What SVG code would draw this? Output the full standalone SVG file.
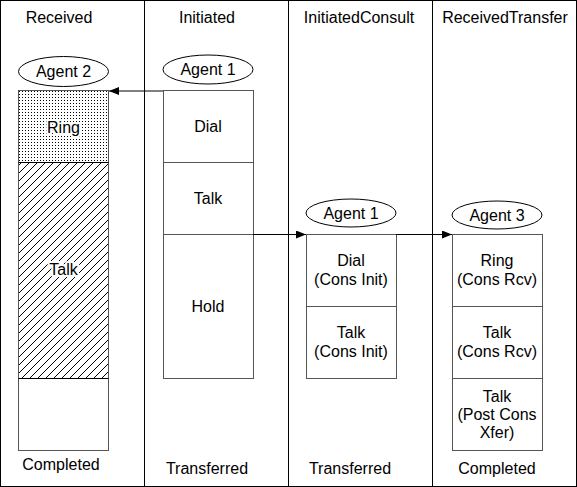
<svg xmlns="http://www.w3.org/2000/svg" width="577" height="487" viewBox="0 0 577 487">
<defs>
<pattern id="dots" width="3" height="3" patternUnits="userSpaceOnUse">
<rect x="1" y="1" width="1" height="1" fill="#000"/>
</pattern>
<pattern id="hatch" width="8" height="8" patternUnits="userSpaceOnUse">
<path d="M-2,2 L2,-2 M0,8 L8,0 M6,10 L10,6" stroke="#000" stroke-width="1"/>
</pattern>
<marker id="arr" markerWidth="10" markerHeight="8" refX="10" refY="4" orient="auto" markerUnits="userSpaceOnUse">
<path d="M0,0 L10,4 L0,8 z" fill="#000"/>
</marker>
<style>
text{font-family:"Liberation Sans",Arial,sans-serif;font-size:16px;fill:#000;text-anchor:middle}
.box{fill:#fff;stroke:#555;stroke-width:1}
.ell{fill:#fff;stroke:#000;stroke-width:1}
.lane{fill:none;stroke:#000;stroke-width:1}
.wt{paint-order:stroke;stroke:#fff;stroke-width:4px;stroke-linejoin:round}
.con{stroke:#000;stroke-width:1;fill:none}
</style>
</defs>
<rect width="577" height="487" fill="#fff"/>
<g id="lanes">
<rect class="lane" x="0.5" y="0.5" width="576" height="486"/>
<line class="lane" x1="144.5" y1="0" x2="144.5" y2="487"/>
<line class="lane" x1="288.5" y1="0" x2="288.5" y2="487"/>
<line class="lane" x1="432.5" y1="0" x2="432.5" y2="487"/>
<text x="59" y="22.5">Received</text>
<text x="207" y="22.5">Initiated</text>
<text x="359" y="22.5">InitiatedConsult</text>
<text x="505" y="22.5">ReceivedTransfer</text>
<text x="61" y="470">Completed</text>
<text x="207" y="474">Transferred</text>
<text x="350" y="474">Transferred</text>
<text x="497" y="474">Completed</text>
</g>
<g id="received">
<ellipse class="ell" cx="63.5" cy="71.5" rx="45" ry="15"/>
<text x="63.5" y="77">Agent 2</text>
<rect class="box" x="18.5" y="90.5" width="90" height="360"/>
<rect x="19" y="91" width="89" height="71" fill="url(#dots)"/>
<rect x="19" y="163" width="89" height="215" fill="url(#hatch)"/>
<line x1="18.5" y1="162.5" x2="108.5" y2="162.5" stroke="#000"/>
<line x1="18.5" y1="378.5" x2="108.5" y2="378.5" stroke="#000"/>
<text class="wt" x="63.5" y="133">Ring</text>
<text class="wt" x="63.5" y="275">Talk</text>
</g>
<g id="initiated">
<ellipse class="ell" cx="208" cy="69.5" rx="45" ry="14.5"/>
<text x="208" y="75">Agent 1</text>
<rect class="box" x="163.5" y="90.5" width="90" height="72"/>
<rect class="box" x="163.5" y="162.5" width="90" height="72"/>
<rect class="box" x="163.5" y="234.5" width="90" height="144"/>
<text x="208" y="132">Dial</text>
<text x="208" y="204">Talk</text>
<text x="208" y="312">Hold</text>
</g>
<g id="initiatedConsult">
<ellipse class="ell" cx="351" cy="213" rx="45" ry="14"/>
<text x="351" y="219">Agent 1</text>
<rect class="box" x="306.5" y="234.5" width="90" height="72"/>
<rect class="box" x="306.5" y="306.5" width="90" height="72"/>
<text x="351" y="266">Dial</text>
<text x="351" y="285">(Cons Init)</text>
<text x="351" y="338">Talk</text>
<text x="351" y="357">(Cons Init)</text>
</g>
<g id="receivedTransfer">
<ellipse class="ell" cx="497" cy="215" rx="45" ry="14"/>
<text x="497" y="221">Agent 3</text>
<rect class="box" x="452.5" y="234.5" width="90" height="72"/>
<rect class="box" x="452.5" y="306.5" width="90" height="72"/>
<rect class="box" x="452.5" y="378.5" width="90" height="72"/>
<text x="497" y="266">Ring</text>
<text x="497" y="285">(Cons Rcv)</text>
<text x="497" y="338">Talk</text>
<text x="497" y="357">(Cons Rcv)</text>
<text x="497" y="402">Talk</text>
<text x="497" y="420">(Post Cons</text>
<text x="497" y="438">Xfer)</text>
</g>
<g id="connectors">
<line class="con" x1="163" y1="91" x2="109" y2="91" marker-end="url(#arr)"/>
<line class="con" x1="253" y1="234.5" x2="306" y2="234.5" marker-end="url(#arr)"/>
<line class="con" x1="396" y1="234.5" x2="452" y2="234.5" marker-end="url(#arr)"/>
</g>
</svg>
